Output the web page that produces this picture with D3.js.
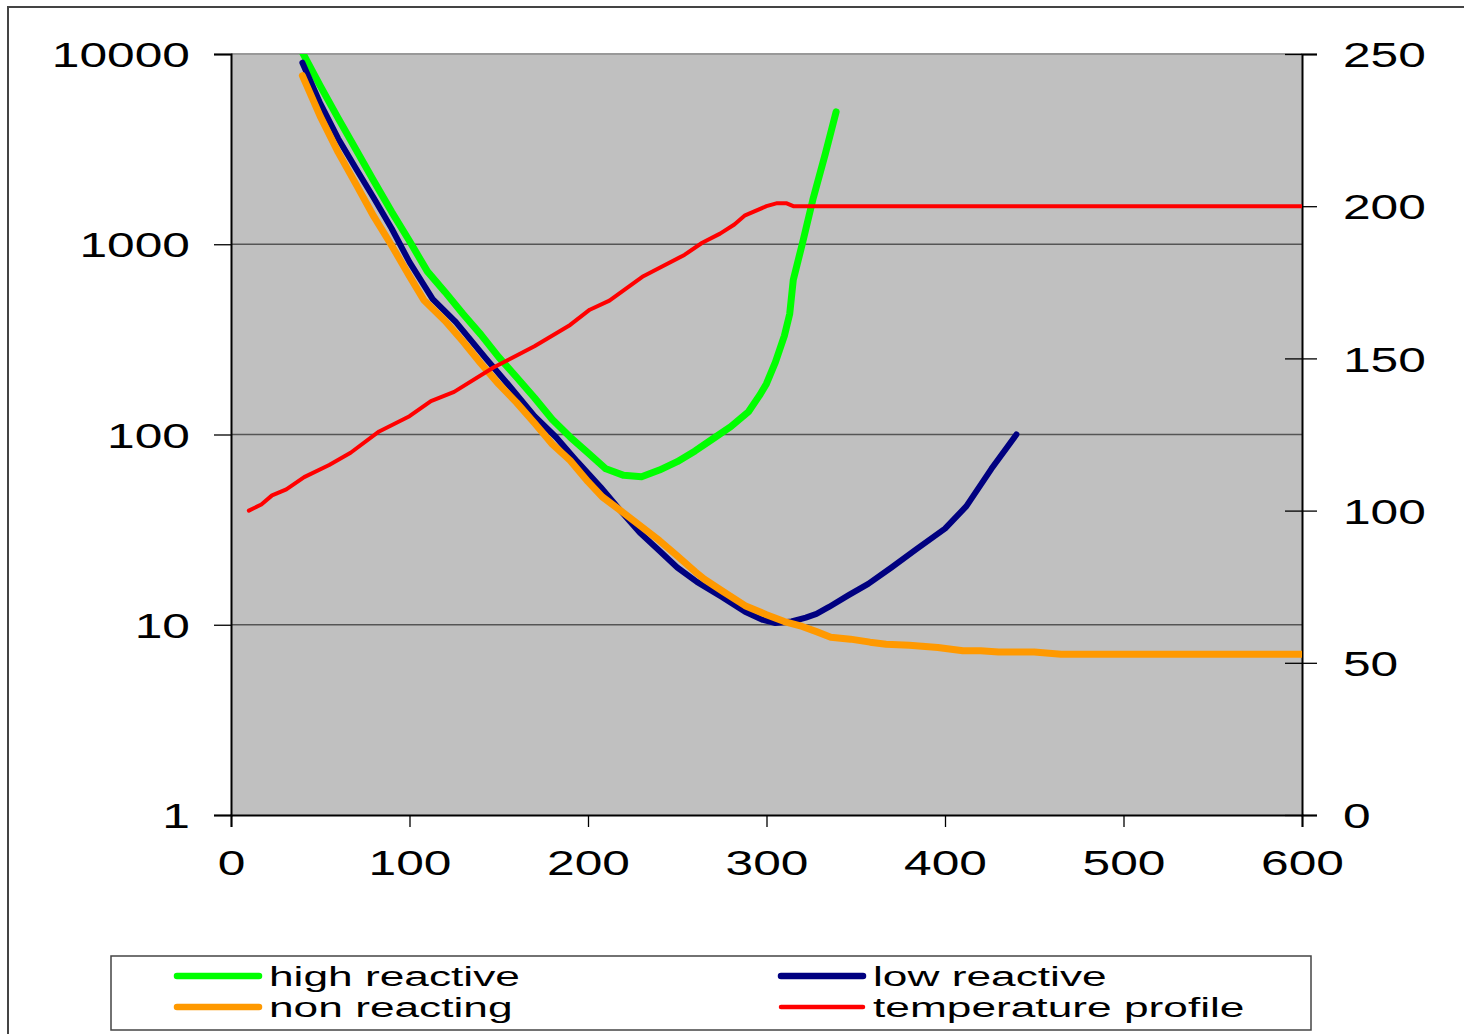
<!DOCTYPE html>
<html>
<head>
<meta charset="utf-8">
<script src="https://cdn.jsdelivr.net/npm/d3@7"></script>
<style>
  body { margin: 0; background: #fff; }
  text { font-family: "Liberation Sans", Arial, sans-serif; fill: #000; }
</style>
</head>
<body>
<div id="chart"></div>
<script>
// data: [x, value]
var highReactive = [[40,10200],[50,6800],[60,4600],[70,3150],[80,2150],[90,1480],[100,1040],[110,720],[120,560],[130,430],
    [140,335],[150,255],[160,200],[170,156],[180,120],[190,97],[200,80],[210,66],[220,61],[230,60],[240,65],[250,72],
    [260,82],[270,95],[280,110],[290,132],[296,160],[300,185],[305,240],[310,330],[313,430],[315,650],[320,1000],
    [326,1720],[333,3000],[339,4960]];
var lowReactive = [[40,9000],[50,5500],[60,3600],[70,2500],[80,1750],[90,1210],[100,805],[113,515],[126,390],[143,250],
    [156,180],[170,125],[182,97],[194,72],[207,53],[218,40],[229,30.5],[240,24.5],[250,20],[261,16.8],[275,14],[288,11.7],
    [298,10.6],[305,10.2],[314,10.4],[322,10.9],[328,11.4],[335,12.4],[346,14.3],[357,16.4],[370,20],[384,25],[400,32],
    [412,42],[426,66],[440,100]];
var nonReacting = [[40,7700],[50,4700],[60,3050],[70,2070],[80,1400],[90,985],[100,680],[108,510],[120,395],[130,308],
    [140,236],[150,184],[160,147],[170,115],[180,89],[190,73],[200,56.5],[208,47],[220,38.7],[230,32.7],[240,27.7],
    [250,23],[260,19],[265,17.4],[275,15.1],[288,12.6],[300,11.3],[310,10.4],[320,9.8],[328,9.2],[336,8.6],[347,8.4],
    [358,8.1],[367,7.9],[380,7.8],[396,7.6],[410,7.3],[420,7.3],[430,7.2],[450,7.2],[465,7.0],[500,7.0],[550,7.0],[600,7.0]];
var tempProfile = [[10,100],[17,102],[23,105],[31,107],[41,111],[55,115],[67,119],[83,126],[100,131],[112,136],[125,139],
    [147,147],[170,154],[190,161],[201,166],[212,169],[231,177],[254,184],[264,188],[274,191],[282,194],[288,197],
    [300,200],[306,201],[311,201],[315,200],[350,200],[400,200],[500,200],[600,200]];

var xTicks = [0,100,200,300,400,500,600];
var leftTicks = [1,10,100,1000,10000];
var rightTicks = [0,50,100,150,200,250];
var seriesNames = ["high reactive","low reactive","non reacting","temperature profile"];
var seriesColors = ["#00ff00","#000080","#ff9900","#ff0000"];
var seriesWidths = [7,6,7,4];

var width = 1464, height = 1034,
    plot = {left: 231, right: 1302, top: 54, bottom: 815},
    stretch = 1.42;

var svg = d3.select("#chart").append("svg").attr("width",width).attr("height",height);

// outer frame
svg.append("rect").attr("x",8).attr("y",7).attr("width",1470).attr("height",1050)
    .style("fill","none").style("stroke","#444").style("stroke-width",2);

var x = d3.scaleLinear().domain([0,600]).range([plot.left,plot.right]);
var yLog = d3.scaleLog().domain([1,10000]).range([plot.bottom,plot.top]);
var yTemp = d3.scaleLinear().domain([0,250]).range([plot.bottom,plot.top]);

svg.append("rect").attr("x",plot.left).attr("y",plot.top)
    .attr("width",plot.right-plot.left).attr("height",plot.bottom-plot.top)
    .style("fill","#c0c0c0");
svg.append("line").attr("x1",plot.left).attr("x2",plot.right).attr("y1",plot.top).attr("y2",plot.top)
    .style("stroke","#999").style("stroke-width",2);

// gridlines
svg.append("g").selectAll("line").data([10,100,1000]).enter().append("line")
    .attr("x1",plot.left).attr("x2",plot.right)
    .attr("y1",d=>yLog(d)).attr("y2",d=>yLog(d))
    .style("stroke","#555").style("stroke-width",1.4);

// axes
var leftAxis = svg.append("g").attr("transform","translate("+plot.left+",0)")
    .call(d3.axisLeft(yLog).tickValues(leftTicks).tickSize(17).tickFormat(d3.format("d")));
leftAxis.selectAll("text").attr("x",-41/stretch).attr("dy","0.36em")
    .attr("transform","scale("+stretch+",1)");

var rightAxis = svg.append("g").attr("transform","translate("+plot.right+",0)")
    .call(d3.axisRight(yTemp).tickValues(rightTicks).tickSize(15));
rightAxis.selectAll(".tick").append("line").attr("x2",-17).style("stroke","#000");
rightAxis.selectAll("text").attr("x",41/stretch).attr("dy","0.36em")
    .attr("transform","scale("+stretch+",1)");

var bottomAxis = svg.append("g").attr("transform","translate(0,"+plot.bottom+")")
    .call(d3.axisBottom(x).tickValues(xTicks).tickSize(12));
bottomAxis.selectAll("text").attr("y",60).attr("dy",0)
    .attr("transform","scale("+stretch+",1)");

[leftAxis,rightAxis,bottomAxis].forEach(a=>{
    a.selectAll("text").style("font-size","35px").style("font-family","Liberation Sans, Arial, sans-serif");
    a.selectAll("line").style("stroke","#000").style("stroke-width",1.3);
    a.select(".domain").style("stroke","#000").style("stroke-width",2);
});

// series
svg.append("clipPath").attr("id","plotClip").append("rect")
    .attr("x",plot.left).attr("y",plot.top)
    .attr("width",plot.right-plot.left).attr("height",plot.bottom-plot.top);

var logLine = d3.line().x(d=>x(d[0])).y(d=>yLog(d[1]));
var tempLine = d3.line().x(d=>x(d[0])).y(d=>yTemp(d[1]));

var seriesG = svg.append("g").attr("clip-path","url(#plotClip)");
[highReactive,lowReactive,nonReacting].forEach((s,i)=>{
    seriesG.append("path").datum(s).attr("d",logLine)
        .style("fill","none").style("stroke",seriesColors[i]).style("stroke-width",seriesWidths[i])
        .style("stroke-linecap","round").style("stroke-linejoin","round");
});
seriesG.append("path").datum(tempProfile).attr("d",tempLine)
    .style("fill","none").style("stroke",seriesColors[3]).style("stroke-width",seriesWidths[3])
    .style("stroke-linecap","round").style("stroke-linejoin","round");

// legend
var legendG = svg.append("g");
legendG.append("rect").attr("x",111).attr("y",956).attr("width",1200).attr("height",74)
    .style("fill","#fff").style("stroke","#444").style("stroke-width",1.5);

var legendItems = legendG.selectAll("g.item").data(seriesNames).enter().append("g")
    .attr("class","item")
    .attr("transform",(d,i)=>"translate("+((i%2==0)?177:781)+","+((i<2)?976:1007)+")");
legendItems.append("line").attr("x1",0).attr("x2",82).attr("y1",0).attr("y2",0)
    .style("stroke",(d,i)=>seriesColors[i])
    .style("stroke-width",(d,i)=>i==3?4.5:6.5)
    .style("stroke-linecap","round");
legendItems.append("text")
    .attr("transform","translate(92,10) scale(1.64,1)")
    .style("font-size","27px")
    .text(d=>d);
</script>
</body>
</html>
